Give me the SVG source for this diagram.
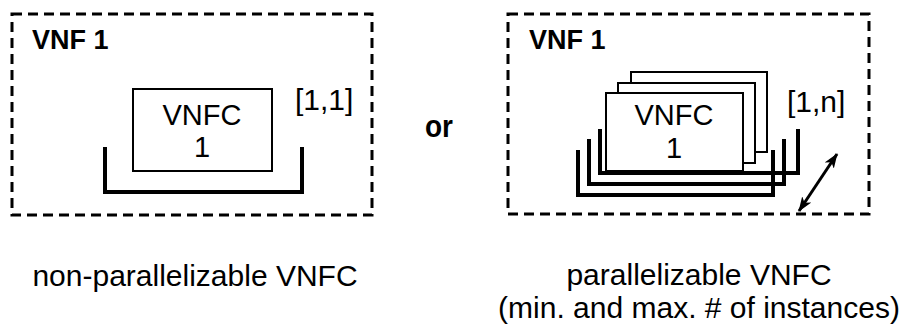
<svg xmlns="http://www.w3.org/2000/svg" width="914" height="330" viewBox="0 0 914 330">
<defs>
<style>
.frame{fill:none;stroke:#000;stroke-width:3;stroke-dasharray:10 6}
.box{fill:#fff;stroke:#000;stroke-width:2}
.tray{fill:none;stroke:#000;stroke-width:4;stroke-linejoin:miter;stroke-linecap:butt}
.t{font-family:"Liberation Sans",Arial,sans-serif;fill:#000}
.title{font-size:27px;font-weight:bold}
.in{font-size:29px;text-anchor:middle}
.card{font-size:30px}
.cap{font-size:30px;text-anchor:middle}
.or{font-size:32px;font-weight:bold}
.arr{fill:none;stroke:#000;stroke-width:3}
</style>
<marker id="ah" viewBox="0 0 15 11" refX="14" refY="5.5" markerWidth="15" markerHeight="11" markerUnits="userSpaceOnUse" orient="auto-start-reverse">
<path d="M0,0 L15,5.5 L0,11 L4,5.5 Z" fill="#000"/>
</marker>
</defs>
<rect width="914" height="330" fill="#fff"/>

<g id="vnf-left">
<rect class="frame" x="12" y="14" width="360" height="201"/>
<text class="t title" x="32" y="49">VNF 1</text>
<text class="t card" x="295" y="110">[1,1]</text>
</g>
<g id="vnfc-left">
<path class="tray" d="M105,147 V192 H302 V147"/>
<rect class="box" x="133" y="89" width="139" height="82"/>
<text class="t in" x="202" y="125">VNFC</text>
<text class="t in" x="202" y="157">1</text>
</g>

<g id="or-label">
<text class="t or" x="425" y="137" textLength="28" lengthAdjust="spacingAndGlyphs">or</text>
</g>

<g id="vnf-right">
<rect class="frame" x="508" y="14" width="361" height="200"/>
<text class="t title" x="529" y="49">VNF 1</text>
<text class="t card" x="787" y="112">[1,n]</text>
</g>
<g id="vnfc-right">
<path class="tray" d="M600,129 V173 H798 V129"/>
<path class="tray" d="M589,139 V184 H784 V139"/>
<path class="tray" d="M578,150 V195 H773 V150"/>
<rect class="box" x="631" y="72" width="136" height="80"/>
<rect class="box" x="618" y="83" width="137" height="80"/>
<rect class="box" x="606" y="93" width="137" height="78"/>
<text class="t in" x="674" y="125">VNFC</text>
<text class="t in" x="674" y="158">1</text>
</g>

<g id="connectors">
<line class="arr" x1="799" y1="211" x2="837" y2="154" marker-start="url(#ah)" marker-end="url(#ah)"/>
</g>

<g id="captions">
<text class="t cap" x="195" y="286">non-parallelizable VNFC</text>
<text class="t cap" x="699" y="285">parallelizable VNFC</text>
<text class="t cap" x="699" y="318">(min. and max. # of instances)</text>
</g>
</svg>
